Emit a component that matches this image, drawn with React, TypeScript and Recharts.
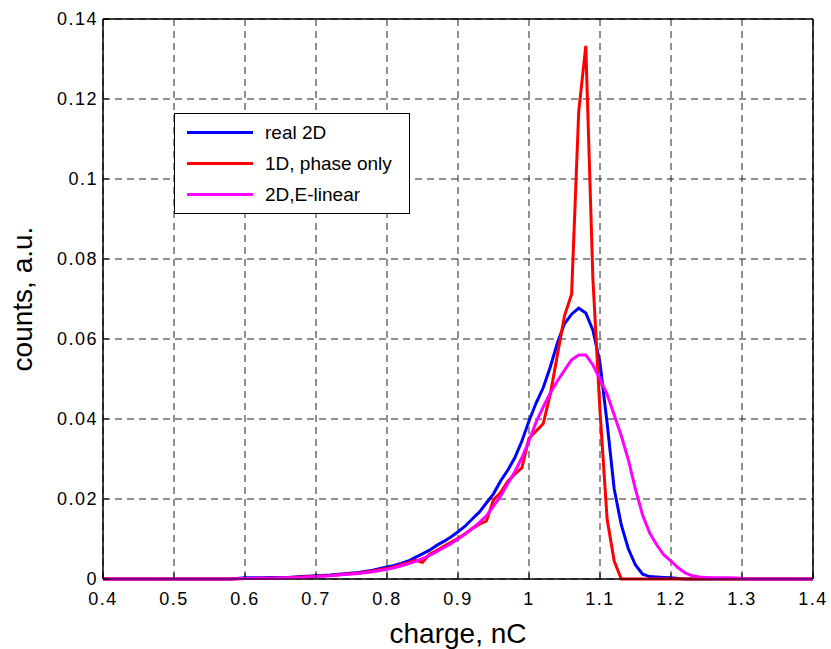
import { CartesianGrid, Line, LineChart, ReferenceArea, XAxis, YAxis } from "recharts";

// charge values (nC) shared by all three curves
const charge = [
  0.4, 0.5, 0.55, 0.58, 0.6, 0.62, 0.64, 0.66, 0.68, 0.7, 0.72, 0.74, 0.76, 0.78,
  0.8, 0.81, 0.82, 0.83, 0.84, 0.85, 0.86, 0.87, 0.88, 0.89,
  0.9, 0.91, 0.92, 0.93, 0.94, 0.95, 0.96, 0.97, 0.98, 0.99,
  1.0, 1.01, 1.02, 1.03, 1.04, 1.05, 1.06, 1.07, 1.08, 1.09,
  1.1, 1.11, 1.12, 1.13, 1.14, 1.15, 1.16, 1.17, 1.18, 1.19,
  1.2, 1.21, 1.22, 1.23, 1.24, 1.25, 1.26, 1.28, 1.3, 1.31, 1.35, 1.4,
];

const real2D = [
  0, 0, 0, 0, 0.0003, 0.0003, 0.0004, 0.0004, 0.0006, 0.0008, 0.001, 0.0013, 0.0016, 0.0022,
  0.003, 0.0034, 0.0039, 0.0045, 0.0054, 0.0063, 0.0072, 0.0084, 0.0094, 0.0105,
  0.0118, 0.0132, 0.015, 0.0167, 0.019, 0.0213, 0.0245, 0.0272, 0.0303, 0.0345,
  0.0395, 0.044, 0.0478, 0.053, 0.059, 0.0638, 0.0662, 0.0677, 0.0665, 0.0622,
  0.054, 0.039, 0.0225, 0.0135, 0.0075, 0.0035, 0.0012, 0.0006, 0.0005, 0.0004,
  0.0003, 0.0001, 0, 0, 0, 0, 0, 0, 0, 0, 0, 0,
];

const phaseOnly1D = [
  0, 0, 0, 0, 0.0001, 0.0002, 0.0002, 0.0003, 0.0005, 0.0007, 0.0009, 0.0012, 0.0015, 0.002,
  0.0026, 0.003, 0.0036, 0.0041, 0.0047, 0.0042, 0.0062, 0.0071, 0.0082, 0.0092,
  0.0102, 0.0113, 0.0126, 0.0137, 0.0145, 0.0198, 0.0216, 0.0244, 0.0262, 0.0278,
  0.0352, 0.037, 0.0388, 0.0462, 0.056, 0.0658, 0.0712, 0.1168, 0.1333, 0.075,
  0.042, 0.015, 0.0045, 0, 0, 0, 0, 0, 0, 0,
  0, 0, 0, 0, 0, 0, 0, 0, 0, 0, 0, 0,
];

const eLinear2D = [
  0, 0, 0, 0, 0.0001, 0.0002, 0.0002, 0.0003, 0.0004, 0.0006, 0.0008, 0.0011, 0.0014, 0.0018,
  0.0024, 0.0028, 0.0033, 0.0038, 0.0044, 0.0051, 0.0059, 0.0068, 0.0078, 0.0088,
  0.01, 0.0112, 0.0126, 0.0141, 0.0158, 0.0182, 0.0207, 0.0238, 0.0268, 0.0303,
  0.0345, 0.0392, 0.043, 0.0465, 0.0495, 0.0522, 0.0548, 0.056, 0.056, 0.0535,
  0.05, 0.0462, 0.041, 0.0358, 0.0297, 0.0224, 0.016, 0.0115, 0.0085, 0.006,
  0.0045, 0.0028, 0.0015, 0.0008, 0.0005, 0.0004, 0.0003, 0.0003, 0.0002, 0, 0, 0,
];

const xTicks = [0.4, 0.5, 0.6, 0.7, 0.8, 0.9, 1, 1.1, 1.2, 1.3, 1.4];
const yTicks = [0, 0.02, 0.04, 0.06, 0.08, 0.1, 0.12, 0.14];

const series = [
  { key: "real2D", name: "real 2D", color: "#0000ff" },
  { key: "phaseOnly1D", name: "1D, phase only", color: "#ff0000" },
  { key: "eLinear2D", name: "2D,E-linear", color: "#ff00ff" },
];

const rows = charge.map((x, i) => ({
  x,
  real2D: real2D[i],
  phaseOnly1D: phaseOnly1D[i],
  eLinear2D: eLinear2D[i],
}));

const font = '"Liberation Sans", Arial, sans-serif';
const tickStyle = { fontSize: 18, fill: "#000", fontFamily: font, letterSpacing: 1.5 };
const labelStyle = { fontSize: 28, fill: "#000", fontFamily: font };

export default function App() {
  return (
    <div style={{ position: "absolute", left: 0, top: 0, width: 831, height: 649, background: "#fff" }}>
      <LineChart
        width={831}
        height={649}
        data={rows}
        margin={{ top: 18, right: 17, left: 0, bottom: 0 }}
      >
        <CartesianGrid stroke="#222" strokeDasharray="7 5" />
        <XAxis
          dataKey="x"
          type="number"
          domain={[0.4, 1.4]}
          ticks={xTicks}
          tickFormatter={(v: number) => String(v)}
          height={70}
          stroke="#000"
          tickSize={-6}
          tickMargin={19}
          tick={tickStyle}
          label={{ value: "charge, nC", position: "insideBottom", offset: 6, style: labelStyle }}
        />
        <XAxis
          xAxisId="top"
          orientation="top"
          dataKey="x"
          type="number"
          domain={[0.4, 1.4]}
          ticks={xTicks}
          height={1}
          stroke="#000"
          tickSize={-6}
          tick={false}
        />
        <YAxis
          type="number"
          domain={[0, 0.14]}
          ticks={yTicks}
          tickFormatter={(v: number) => String(v)}
          width={103}
          stroke="#000"
          tickSize={-6}
          tickMargin={11}
          tick={tickStyle}
          label={{
            value: "counts, a.u.",
            angle: -90,
            position: "insideLeft",
            offset: 22,
            style: { ...labelStyle, textAnchor: "middle" },
          }}
        />
        <YAxis
          yAxisId="right"
          orientation="right"
          type="number"
          domain={[0, 0.14]}
          ticks={yTicks}
          width={1}
          stroke="#000"
          tickSize={-6}
          tick={false}
        />
        <ReferenceArea x1={0.4} x2={1.4} y1={0} y2={0.14} fill="none" stroke="#000" strokeWidth={1} />
        {series.map((s) => (
          <Line
            key={s.key}
            type="linear"
            dataKey={s.key}
            name={s.name}
            stroke={s.color}
            strokeWidth={3}
            dot={false}
            isAnimationActive={false}
          />
        ))}
      </LineChart>
      <div
        style={{
          position: "absolute",
          left: 174,
          top: 113,
          width: 236,
          height: 101,
          border: "1px solid #000",
          background: "#fff",
          boxSizing: "border-box",
          fontFamily: font,
          fontSize: 19,
          paddingTop: 3,
        }}
      >
        {series.map((s) => (
          <div key={s.key} style={{ display: "flex", alignItems: "center", height: 31 }}>
            <div
              style={{ width: 66, height: 3, flexShrink: 0, background: s.color, marginLeft: 12, marginRight: 12 }}
            />
            <span>{s.name}</span>
          </div>
        ))}
      </div>
    </div>
  );
}
